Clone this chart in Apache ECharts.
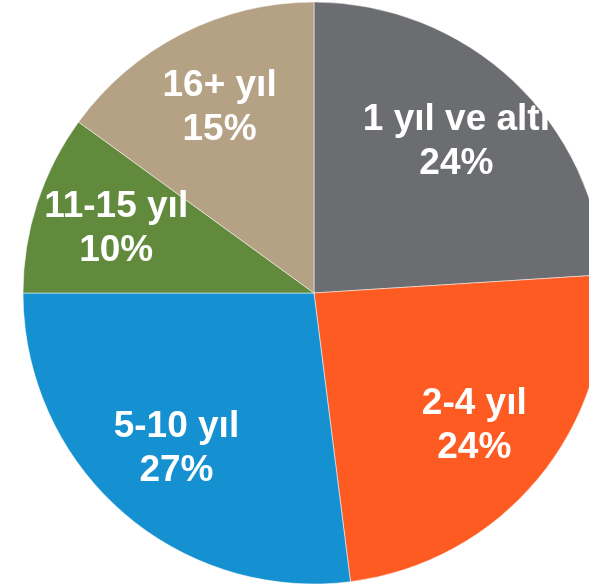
<!DOCTYPE html>
<html>
<head>
<meta charset="utf-8">
<script src="https://cdn.jsdelivr.net/npm/echarts@6/dist/echarts.min.js"></script>
<style>
html,body{margin:0;padding:0;background:#fff;}
#chart{width:589px;height:584px;}
</style>
</head>
<body>
<div id="chart"></div>
<script>
var categories = ['1 yıl ve altı', '2-4 yıl', '5-10 yıl', '11-15 yıl', '16+ yıl'];
var values = [24, 24, 27, 10, 15];
var percentLabels = ['24%', '24%', '27%', '10%', '15%'];
var colors = ['#6b6d70', '#fe5b22', '#1590d1', '#628a3d', '#b5a285'];

var pieData = categories.map(function (c, i) {
  return { name: c, value: values[i], itemStyle: { color: colors[i] } };
});
var labelData = categories.map(function (c, i) {
  return { name: c, value: values[i], pct: percentLabels[i] };
});

var chart = echarts.init(document.getElementById('chart'), null, { renderer: 'canvas' });
chart.setOption({
  backgroundColor: '#ffffff',
  animation: false,
  series: [
    {
      type: 'pie',
      center: [314, 293],
      radius: [0, 291],
      startAngle: 90,
      clockwise: true,
      silent: true,
      label: { show: false },
      labelLine: { show: false },
      itemStyle: { borderColor: 'rgba(255,255,255,0.5)', borderWidth: 1 },
      data: pieData
    },
    {
      type: 'pie',
      center: [314, 293],
      radius: [0, 410],
      startAngle: 90,
      clockwise: true,
      silent: true,
      itemStyle: { color: 'rgba(0,0,0,0)' },
      labelLine: { show: false },
      label: {
        show: true,
        position: 'inside',
        formatter: function (p) { return p.name + '\n' + percentLabels[p.dataIndex]; },
        color: '#ffffff',
        fontFamily: 'Liberation Sans, Arial, sans-serif',
        fontSize: 37,
        fontWeight: 'bold',
        lineHeight: 44,
        align: 'center'
      },
      data: labelData
    }
  ]
});
</script>
</body>
</html>
